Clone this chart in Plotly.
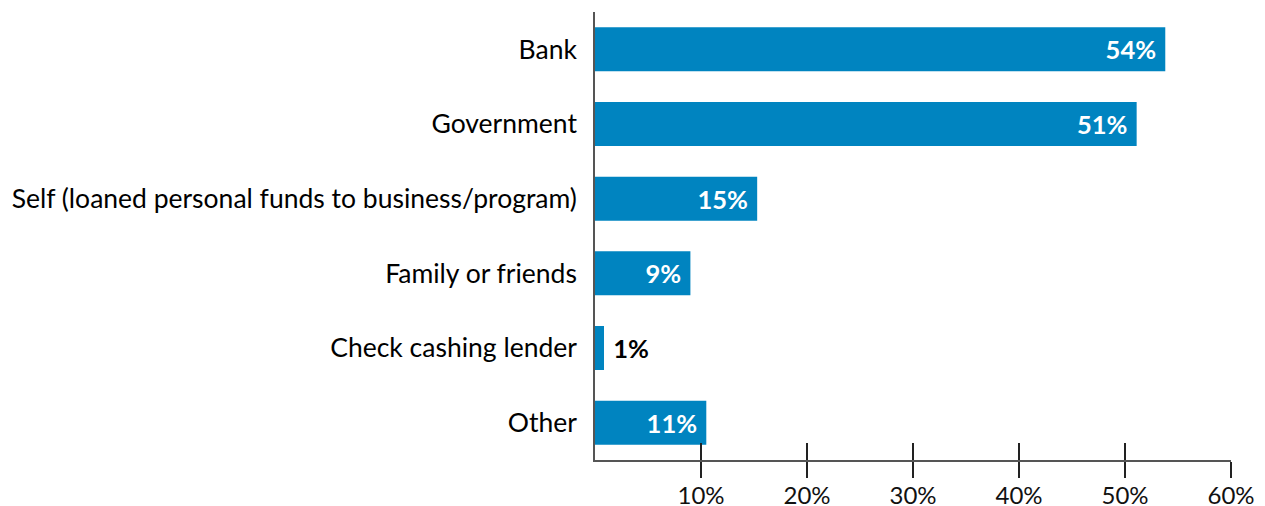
import plotly.graph_objects as go

categories = ["Bank", "Government", "Self (loaned personal funds to business/program)",
              "Family or friends", "Check cashing lender", "Other"]
values = [53.8, 51.1, 15.3, 9.0, 0.85, 10.5]
labels = ["54%", "51%", "15%", "9%", "1%", "11%"]
tick_vals = [10, 20, 30, 40, 50, 60]
tick_text = ["10%", "20%", "30%", "40%", "50%", "60%"]

BLUE = "#0084C0"
NB = "\u00a0"
# padding: inside labels sit away from bar end, outside label away from bar
display = [(NB + t) if v < 3 else (t + NB) for t, v in zip(labels, values)]

fig = go.Figure()
fig.add_trace(go.Bar(
    y=categories, x=values, orientation="h",
    marker=dict(color=BLUE, line=dict(width=0)),
    text=display, textposition="auto", textangle=0,
    insidetextanchor="end",
    insidetextfont=dict(family="Lato", size=25.5, color="white", weight="bold"),
    outsidetextfont=dict(family="Lato", size=25.5, color="black", weight="bold"),
    cliponaxis=False, hoverinfo="skip",
))
fig.add_trace(go.Scatter(x=[None], y=[None], xaxis="x2", yaxis="y", showlegend=False))

fig.update_layout(
    width=1265, height=506,
    margin=dict(l=587, r=42, t=4, b=54, autoexpand=False),
    paper_bgcolor="white", plot_bgcolor="white",
    showlegend=False,
    bargap=0.41,
    font=dict(family="Lato", size=26, color="black"),
    xaxis=dict(
        range=[0, 60], tickvals=tick_vals, ticktext=tick_text,
        ticks="outside", ticklen=16, tickwidth=1.5, tickcolor="#222",
        showline=True, linecolor="#555", linewidth=1.5,
        showgrid=False, zeroline=False, automargin=False,
        ticklabelstandoff=-3,
        tickfont=dict(family="Lato", size=24, color="#111"),
        fixedrange=True,
    ),
    xaxis2=dict(
        overlaying="x", side="bottom", range=[0, 60], tickvals=tick_vals,
        ticks="inside", ticklen=17, tickwidth=1.5, tickcolor="#222",
        showticklabels=False, showline=False, showgrid=False, zeroline=False,
        automargin=False,
    ),
    yaxis=dict(
        categoryorder="array", categoryarray=categories[::-1],
        range=[-0.5, 5.5], automargin=False,
        showline=True, linecolor="#555", linewidth=1.5,
        ticks="", ticklabelstandoff=11,
        tickfont=dict(family="Lato", size=26.5, color="black"),
        showgrid=False, zeroline=False,
    ),
)

fig.write_html("out.html")
